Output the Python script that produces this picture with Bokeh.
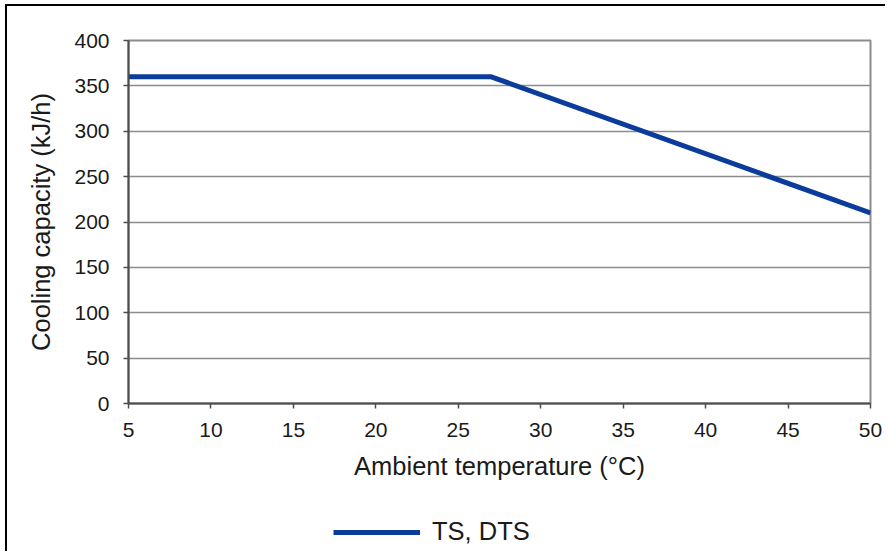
from bokeh.plotting import figure
from bokeh.models import FixedTicker, Legend, LegendItem, Range1d
from bokeh.layouts import column
from bokeh.embed import file_html
from bokeh.resources import INLINE

temps = [5, 27, 50]
capacity = [360, 360, 210]
x_ticks = [5, 10, 15, 20, 25, 30, 35, 40, 45, 50]
y_ticks = [0, 50, 100, 150, 200, 250, 300, 350, 400]
series_name = "TS, DTS"
x_title = "Ambient temperature (°C)"
y_title = "Cooling capacity (kJ/h)"

FONT = "Liberation Sans"
LINE_COLOR = "#0B3C9B"

p = figure(width=878, height=490, output_backend="svg", toolbar_location=None,
           x_range=Range1d(5, 50), y_range=Range1d(0, 400),
           min_border_left=121, min_border_right=15, min_border_top=34, min_border_bottom=93)
p.background_fill_color = "white"
p.border_fill_color = "white"
p.outline_line_color = "#8c8c8c"
p.outline_line_width = 2

r = p.line(temps, capacity, line_color=LINE_COLOR, line_width=5)

p.xgrid.visible = False
p.ygrid.ticker = FixedTicker(ticks=y_ticks)
p.ygrid.grid_line_color = "#8c8c8c"
p.ygrid.grid_line_width = 1.5

for ax in (p.xaxis[0], p.yaxis[0]):
    ax.axis_line_color = "#4d4d4d"
    ax.axis_line_width = 2
    ax.major_tick_line_color = "#4d4d4d"
    ax.major_tick_line_width = 1.5
    ax.major_tick_in = 0
    ax.major_tick_out = 5
    ax.minor_tick_line_color = None
    ax.major_label_text_font = FONT
    ax.major_label_text_font_size = "21px"
    ax.major_label_text_color = "#1a1a1a"
    ax.major_label_standoff = 14
    ax.axis_label_text_font = FONT
    ax.axis_label_text_font_size = "25.5px"
    ax.axis_label_text_font_style = "normal"
    ax.axis_label_text_color = "#1a1a1a"

p.xaxis[0].ticker = FixedTicker(ticks=x_ticks)
p.yaxis[0].ticker = FixedTicker(ticks=y_ticks)
p.xaxis[0].axis_label = x_title
p.yaxis[0].axis_label = y_title
p.xaxis[0].axis_label_standoff = 12
p.yaxis[0].axis_label_standoff = 16

# legend strip below the chart (same series, its line kept out of view)
p2 = figure(width=878, height=55, output_backend="svg", toolbar_location=None,
            x_axis_type=None, y_axis_type=None,
            x_range=Range1d(5, 50), y_range=Range1d(1000, 1001),
            min_border_left=0, min_border_right=0, min_border_top=0, min_border_bottom=0)
p2.outline_line_color = None
p2.xgrid.visible = False
p2.ygrid.visible = False
p2.background_fill_color = "white"
p2.border_fill_color = "white"
r2 = p2.line(temps, capacity, line_color=LINE_COLOR, line_width=5)

legend = Legend(items=[LegendItem(label=series_name, renderers=[r2])],
                location=(205, 5), orientation="horizontal",
                glyph_width=87, glyph_height=24, label_height=24,
                label_standoff=12, padding=0, margin=0, spacing=0,
                border_line_color=None, background_fill_alpha=0,
                label_text_font=FONT, label_text_font_size="25.5px",
                label_text_color="#1a1a1a")
p2.add_layout(legend, "center")

layout = column(p, p2, spacing=0,
                styles={"margin-left": "5px", "margin-top": "4px",
                        "border-left": "2px solid black", "border-top": "2px solid black"})

open("out.html", "w").write(file_html(layout, INLINE))
